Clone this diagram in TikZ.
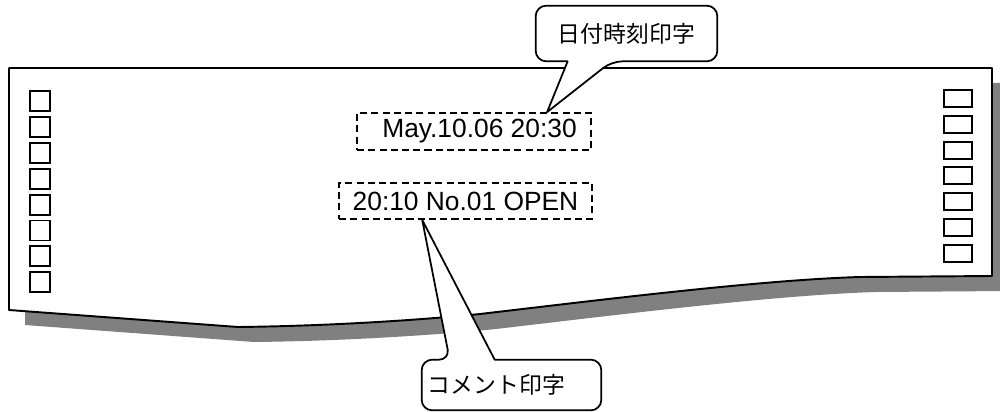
\documentclass[tikz,border=0pt]{standalone}
\usepackage{fontspec}
\setmainfont{Liberation Sans}
\newfontfamily\jpfont{Noto Sans CJK JP}
\usetikzlibrary{positioning,calc,backgrounds}
\definecolor{shadowgray}{RGB}{128,128,128}
\tikzset{
  print-box/.style={draw=black, line width=1pt, dash pattern=on 4pt off 2.4pt,
    inner sep=0pt, font=\fontsize{15}{18}\selectfont},
  callout-text/.style={inner sep=0pt, font=\jpfont\fontsize{13}{16}\selectfont},
  callout-shape/.style={draw=black, line width=1pt, fill=white, line join=round},
  paper-sheet/.style={draw=black, line width=1.1pt, fill=white, line join=round},
  paper-shadow/.style={fill=shadowgray},
  feed-hole/.style={draw=black, line width=1.1pt}
}
% outline of the printed strip, in pixel units
\newcommand{\sheetoutline}{(9,68) -- (992,68) -- (992,276) -- (860,277)
  .. controls (760,280) and (600,300) .. (480,314)
  .. controls (420,320) and (330,326) .. (238,327) -- (9,310) -- cycle}

\begin{document}
\begin{tikzpicture}[x=0.02cm, y=-0.02cm]
\useasboundingbox (0,0) rectangle (1000,412);

% printed fields
\node[print-box, minimum width=4.68cm, minimum height=0.74cm]
  (datebox) at (474,131.5) {\hspace{0.22cm}May.10.06 20:30};
\node[print-box, minimum width=5.06cm, minimum height=0.72cm]
  (commentbox) at (465.5,201) {20:10 No.01 OPEN};

% callout texts
\node[callout-text, minimum width=3.62cm, minimum height=1.1cm]
  (datecall) at (626.5,33.5) {日付時刻印字};
\node[callout-text, minimum width=3.58cm, minimum height=1.0cm]
  (commentcall) at (511.5,385) {\hspace{-0.6cm}コメント印字};

\begin{scope}[on background layer]
  % strip and its shadow
  \fill[paper-shadow, shift={(16,15)}] \sheetoutline;
  \draw[paper-sheet] \sheetoutline;
  % feed holes
  \foreach \i in {0,...,7}
    \draw[feed-hole] (30,{91+25.9*\i}) rectangle ++(20,20);
  \foreach \i in {0,...,6}
    \draw[feed-hole] (944,{90+25.8*\i}) rectangle ++(28,17);
  % balloons
  \draw[callout-shape] ($(datecall.south west)+(32,0)$) [rounded corners=6pt]
    -- (datecall.south west) -- (datecall.north west) -- (datecall.north east)
    -- (datecall.south east) -- ($(datecall.south west)+(76,0)$) [sharp corners]
    -- ($(datebox.north west)!0.81!(datebox.north east)$) -- cycle;
  \draw[callout-shape] ($(commentcall.north west)+(73,0)$) [rounded corners=6pt]
    -- (commentcall.north east) -- (commentcall.south east) -- (commentcall.south west)
    -- (commentcall.north west) -- ($(commentcall.north west)+(28,0)$) [sharp corners]
    -- ($(commentbox.south west)!0.33!(commentbox.south east)$) -- cycle;
\end{scope}
\end{tikzpicture}
\end{document}
